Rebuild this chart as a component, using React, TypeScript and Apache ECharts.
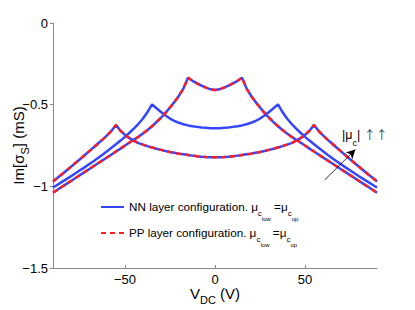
import React, { useEffect, useRef } from "react";
import * as echarts from "echarts";

// Bias voltage grid (V)
const voltages = [
  -90, -87.5, -85, -82.5, -80, -77.5, -75, -72.5, -70, -67.5, -65, -62.5, -60, -57.5, -55, -52.5, -50, -47.5, -45, -42.5,
  -40, -37.5, -35, -32.5, -30, -27.5, -25, -22.5, -20, -17.5, -15, -12.5, -10, -7.5, -5, -2.5,
  0,
  2.5, 5, 7.5, 10, 12.5, 15, 17.5, 20, 22.5, 25, 27.5, 30, 32.5, 35, 37.5, 40, 42.5, 45, 47.5,
  50, 52.5, 55, 57.5, 60, 62.5, 65, 67.5, 70, 72.5, 75, 77.5, 80, 82.5, 85, 87.5, 90,
];

// Im[sigma_S] (mS), lowest |mu_c| (cusps at +-15 V)
const curveLow = [
  -1.039, -1.021, -1.003, -0.985, -0.967, -0.949, -0.931, -0.913, -0.895, -0.877, -0.859, -0.841, -0.823, -0.805, -0.787, -0.769, -0.75, -0.732, -0.714, -0.696,
  -0.676, -0.655, -0.632, -0.607, -0.58, -0.55, -0.517, -0.483, -0.445, -0.4, -0.335, -0.354, -0.37, -0.384, -0.396, -0.406,
  -0.41,
  -0.406, -0.396, -0.384, -0.37, -0.354, -0.335, -0.4, -0.445, -0.483, -0.517, -0.55, -0.58, -0.607, -0.632, -0.655, -0.676, -0.696, -0.714, -0.732,
  -0.75, -0.769, -0.787, -0.805, -0.823, -0.841, -0.859, -0.877, -0.895, -0.913, -0.931, -0.949, -0.967, -0.985, -1.003, -1.021, -1.039,
];

// medium |mu_c| (cusps at +-35 V), NN only
const curveMid = [
  -1.007, -0.99, -0.973, -0.956, -0.938, -0.92, -0.902, -0.884, -0.865, -0.846, -0.826, -0.806, -0.785, -0.764, -0.742, -0.72, -0.697, -0.672, -0.645, -0.617,
  -0.585, -0.545, -0.498, -0.522, -0.545, -0.566, -0.585, -0.6, -0.611, -0.62, -0.627, -0.632, -0.636, -0.64, -0.642, -0.644,
  -0.645,
  -0.644, -0.642, -0.64, -0.636, -0.632, -0.627, -0.62, -0.611, -0.6, -0.585, -0.566, -0.545, -0.522, -0.498, -0.545, -0.585, -0.617, -0.645, -0.672,
  -0.697, -0.72, -0.742, -0.764, -0.785, -0.806, -0.826, -0.846, -0.865, -0.884, -0.902, -0.92, -0.938, -0.956, -0.973, -0.99, -1.007,
];

// highest |mu_c| (cusps at +-55 V)
const curveHigh = [
  -0.97, -0.948, -0.926, -0.903, -0.88, -0.857, -0.834, -0.81, -0.786, -0.762, -0.738, -0.714, -0.688, -0.66, -0.625, -0.66, -0.685, -0.705, -0.722, -0.735,
  -0.745, -0.754, -0.762, -0.77, -0.777, -0.784, -0.79, -0.795, -0.8, -0.804, -0.808, -0.812, -0.816, -0.819, -0.821, -0.822,
  -0.822,
  -0.822, -0.821, -0.819, -0.816, -0.812, -0.808, -0.804, -0.8, -0.795, -0.79, -0.784, -0.777, -0.77, -0.762, -0.754, -0.745, -0.735, -0.722, -0.705,
  -0.685, -0.66, -0.625, -0.66, -0.688, -0.714, -0.738, -0.762, -0.786, -0.81, -0.834, -0.857, -0.88, -0.903, -0.926, -0.948, -0.97,
];

const xTicks = [-50, 0, 50];
const arrowTail = [61, -0.96];
const arrowHead = [78, -0.775];

const FONT = "Liberation Sans";
const BLUE = "#3346ff";
const RED = "#ff1f1f";

const pairs = (ys: number[]) => voltages.map((v, i) => [v, ys[i]]);
const fmt = (v: number) => (v < 0 ? "\u2212" + String(-v) : String(v));

export default function App() {
  const ref = useRef<HTMLDivElement>(null);
  useEffect(() => {
    if (!ref.current) return;
    const chart = echarts.init(ref.current, undefined, { renderer: "svg" });
    const subRich = {
      t: { fontSize: 11.7, lineHeight: 14, verticalAlign: "top", fontFamily: FONT, color: "#000" },
      s: { fontSize: 8, lineHeight: 10, padding: [9, 0, 0, 0], verticalAlign: "top", fontFamily: FONT, color: "#000" },
      ss: { fontSize: 6, lineHeight: 7, padding: [16, 0, 0, 0], verticalAlign: "top", fontFamily: FONT, color: "#000" },
    };
    const nameRich = {
      a: { fontSize: 15, lineHeight: 18, verticalAlign: "top", fontFamily: FONT, color: "#000" },
      b: { fontSize: 11, lineHeight: 12, padding: [8, 0, 0, 0], verticalAlign: "top", fontFamily: FONT, color: "#000" },
    };
    const blueLine = { color: BLUE, width: 2.5, type: "solid" };
    const redLine = { color: RED, width: 2.5, type: [5, 4] };
    chart.setOption({
      animation: false,
      textStyle: { fontFamily: FONT },
      grid: { left: 53, right: 38, top: 23, bottom: 42, containLabel: false, outerBoundsMode: "none" },
      xAxis: {
        type: "value",
        min: -90,
        max: 90,
        name: "{a|V}{b|DC}{a| (V)}",
        nameLocation: "middle",
        nameGap: 18,
        nameMoveOverlap: false,
        nameTextStyle: { rich: nameRich },
        axisLine: { onZero: false, lineStyle: { color: "#888", width: 1 } },
        axisTick: { show: true, inside: true, length: 3, customValues: xTicks, lineStyle: { color: "#888" } },
        axisLabel: { customValues: xTicks, formatter: fmt, fontSize: 13, color: "#000", margin: 5, fontFamily: FONT },
        splitLine: { show: false },
      },
      yAxis: {
        type: "value",
        min: -1.5,
        max: 0,
        interval: 0.5,
        name: "{a|Im[\u03c3}{b|S}{a|] (mS)}",
        nameLocation: "middle",
        nameGap: 24,
        nameMoveOverlap: false,
        nameTextStyle: { rich: nameRich },
        axisLine: { show: true, onZero: false, lineStyle: { color: "#888", width: 1 } },
        axisTick: { show: true, inside: false, length: 3, lineStyle: { color: "#888" } },
        axisLabel: { formatter: fmt, fontSize: 13, color: "#000", margin: 5, fontFamily: FONT },
        splitLine: { show: false },
      },
      legend: {
        orient: "vertical",
        left: 100,
        top: 200,
        padding: 0,
        itemWidth: 23,
        itemHeight: 12,
        itemGap: 4,
        itemStyle: { opacity: 0 },
        data: ["NN", "PP"],
        formatter: (name: string) =>
          name === "NN"
            ? "{t|NN layer configuration. \u03bc}{s|c}{ss|low}{t| =\u03bc}{s|c}{ss|up}"
            : "{t|PP layer configuration. \u03bc}{s|c}{ss|low}{t| =\u03bc}{s|c}{ss|up}",
        textStyle: { rich: subRich },
      },
      series: [
        {
          name: "NN", type: "line", data: pairs(curveLow), showSymbol: false, symbol: "none", lineStyle: blueLine, itemStyle: { color: BLUE }, z: 2,
          markLine: {
            silent: true,
            symbol: ["none", "arrow"],
            symbolSize: [7, 9],
            label: { show: false },
            lineStyle: { color: "#000", width: 0.8, type: "solid" },
            data: [[{ coord: arrowTail }, { coord: arrowHead }]],
          },
        },
        { name: "NN", type: "line", data: pairs(curveMid), showSymbol: false, symbol: "none", lineStyle: blueLine, itemStyle: { color: BLUE }, z: 2 },
        { name: "NN", type: "line", data: pairs(curveHigh), showSymbol: false, symbol: "none", lineStyle: blueLine, itemStyle: { color: BLUE }, z: 2 },
        { name: "PP", type: "line", data: pairs(curveLow), showSymbol: false, symbol: "none", lineStyle: redLine, itemStyle: { color: RED }, z: 3 },
        { name: "PP", type: "line", data: pairs(curveHigh), showSymbol: false, symbol: "none", lineStyle: redLine, itemStyle: { color: RED }, z: 3 },
      ],
      graphic: [
        {
          type: "text",
          left: 342,
          top: 128,
          style: {
            text: "{t|\u007c\u03bc}{s|c}{t|\u007c }{a|\u2191\u2191}",
            rich: {
              t: { fontSize: 12.5, lineHeight: 14, verticalAlign: "top", fontFamily: FONT, fill: "#000", color: "#000" },
              s: { fontSize: 9, lineHeight: 10, padding: [10, 0, 0, 0], verticalAlign: "top", fontFamily: FONT, fill: "#000", color: "#000" },
              a: { fontSize: 12, lineHeight: 14, verticalAlign: "top", fontFamily: "Noto Sans CJK SC", fill: "#333", color: "#333" },
            },
          },
        },
      ],
    });
    return () => chart.dispose();
  }, []);
  return (
    <div
      ref={ref}
      style={{ position: "fixed", left: 0, top: 0, width: 415, height: 310, background: "#fff" }}
    />
  );
}
